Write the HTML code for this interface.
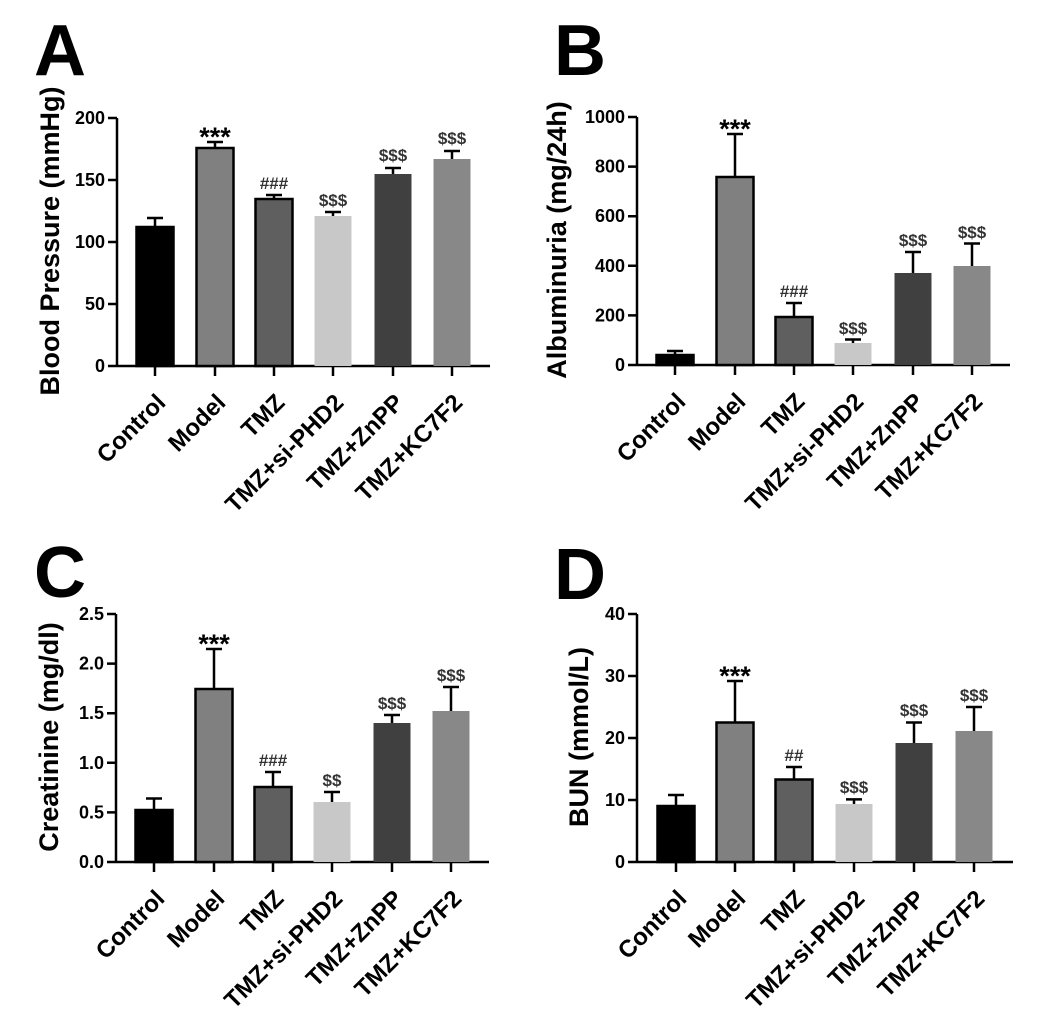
<!DOCTYPE html>
<html><head><meta charset="utf-8"><style>
html,body{margin:0;padding:0;background:#fff;}
svg{display:block;font-family:"Liberation Sans",Arial,sans-serif;font-weight:bold;}
.t{font-size:18px;text-anchor:end;}
.xl{font-size:24px;text-anchor:end;}
.yl{font-size:27px;text-anchor:middle;}
.an{font-size:17px;text-anchor:middle;fill:#333;}
.st{font-size:27px;text-anchor:middle;}
.L{font-size:72px;}
</style></head><body>
<svg width="1040" height="1024" viewBox="0 0 1040 1024" xmlns="http://www.w3.org/2000/svg">
<rect width="1040" height="1024" fill="#fff"/>
<text class="L" x="34" y="75">A</text>
<text class="L" x="554" y="75">B</text>
<text class="L" x="34" y="597">C</text>
<text class="L" x="554" y="599">D</text>

<!-- Panel A -->
<g transform="translate(117,366)" stroke-width="2.5">
<g stroke="#000" fill="none"><path d="M0,0V-248M0,0H373"/>
<path d="M-9,0H0M-9,-62H0M-9,-124H0M-9,-186H0M-9,-248H0"/>
<path d="M38,0v10M98,0v10M157,0v10M216,0v10M276,0v10M335,0v10"/>
<path d="M38,-139V-148M30,-148H46M98,-218V-224M90,-224H106M157,-167V-171M149,-171H165M216,-150V-154M208,-154H224M276,-192V-198M268,-198H284M335,-207V-215M327,-215H343"/></g>
<rect x="19.5" y="-139" width="37" height="139" fill="#000" stroke="#000"/>
<rect x="79.5" y="-218" width="37" height="218" fill="#808080" stroke="#000"/>
<rect x="138.5" y="-167" width="37" height="167" fill="#5f5f5f" stroke="#000"/>
<rect x="197.5" y="-150" width="37" height="150" fill="#c8c8c8" stroke="none"/>
<rect x="257.5" y="-192" width="37" height="192" fill="#404040" stroke="none"/>
<rect x="316.5" y="-207" width="37" height="207" fill="#888" stroke="none"/>
<text class="t" x="-12" y="6">0</text><text class="t" x="-12" y="-56">50</text><text class="t" x="-12" y="-118">100</text><text class="t" x="-12" y="-180">150</text><text class="t" x="-12" y="-242">200</text>
<text class="st" x="98" y="-220">***</text>
<text class="an" x="157" y="-177">###</text>
<text class="an" x="216" y="-160">$$$</text>
<text class="an" x="276" y="-205">$$$</text>
<text class="an" x="335" y="-222">$$$</text>
<text class="yl" transform="translate(-67,-125) rotate(-90)" y="9">Blood Pressure (mmHg)</text>
<text class="xl" transform="translate(50,38) rotate(-45)">Control</text>
<text class="xl" transform="translate(110,38) rotate(-45)">Model</text>
<text class="xl" transform="translate(169,38) rotate(-45)">TMZ</text>
<text class="xl" transform="translate(228,38) rotate(-45)">TMZ+si-PHD2</text>
<text class="xl" transform="translate(288,38) rotate(-45)">TMZ+ZnPP</text>
<text class="xl" transform="translate(347,38) rotate(-45)">TMZ+KC7F2</text>
</g>

<!-- Panel B -->
<g transform="translate(637,365)" stroke-width="2.5">
<g stroke="#000" fill="none"><path d="M0,0V-248M0,0H373"/>
<path d="M-9,0H0M-9,-49.6H0M-9,-99.2H0M-9,-148.8H0M-9,-198.4H0M-9,-248H0"/>
<path d="M38,0v10M98,0v10M157,0v10M216,0v10M276,0v10M335,0v10"/>
<path d="M38,-10V-14M30,-14H46M98,-188V-231M90,-231H106M157,-48V-62M149,-62H165M216,-22V-25.5M208,-25.5H224M276,-92V-113M268,-113H284M335,-99V-121.5M327,-121.5H343"/></g>
<rect x="19.5" y="-10" width="37" height="10" fill="#000" stroke="#000"/>
<rect x="79.5" y="-188" width="37" height="188" fill="#808080" stroke="#000"/>
<rect x="138.5" y="-48" width="37" height="48" fill="#5f5f5f" stroke="#000"/>
<rect x="197.5" y="-22" width="37" height="22" fill="#c8c8c8" stroke="none"/>
<rect x="257.5" y="-92" width="37" height="92" fill="#404040" stroke="none"/>
<rect x="316.5" y="-99" width="37" height="99" fill="#888" stroke="none"/>
<text class="t" x="-12" y="6">0</text><text class="t" x="-12" y="-43.6">200</text><text class="t" x="-12" y="-93.2">400</text><text class="t" x="-12" y="-142.8">600</text><text class="t" x="-12" y="-192.4">800</text><text class="t" x="-12" y="-242">1000</text>
<text class="st" x="98" y="-227">***</text>
<text class="an" x="157" y="-68">###</text>
<text class="an" x="216" y="-31">$$$</text>
<text class="an" x="276" y="-119">$$$</text>
<text class="an" x="335" y="-127">$$$</text>
<text class="yl" transform="translate(-80,-125) rotate(-90)" y="9">Albuminuria (mg/24h)</text>
<text class="xl" transform="translate(50,38) rotate(-45)">Control</text>
<text class="xl" transform="translate(110,38) rotate(-45)">Model</text>
<text class="xl" transform="translate(169,38) rotate(-45)">TMZ</text>
<text class="xl" transform="translate(228,38) rotate(-45)">TMZ+si-PHD2</text>
<text class="xl" transform="translate(288,38) rotate(-45)">TMZ+ZnPP</text>
<text class="xl" transform="translate(347,38) rotate(-45)">TMZ+KC7F2</text>
</g>

<!-- Panel C -->
<g transform="translate(116,862)" stroke-width="2.5">
<g stroke="#000" fill="none"><path d="M0,0V-248M0,0H373"/>
<path d="M-9,0H0M-9,-49.6H0M-9,-99.2H0M-9,-148.8H0M-9,-198.4H0M-9,-248H0"/>
<path d="M38,0v10M98,0v10M157,0v10M216,0v10M276,0v10M335,0v10"/>
<path d="M38,-52V-63.5M30,-63.5H46M98,-173V-213M90,-213H106M157,-75V-90M149,-90H165M216,-60V-70M208,-70H224M276,-139V-147M268,-147H284M335,-151V-175M327,-175H343"/></g>
<rect x="19.5" y="-52" width="37" height="52" fill="#000" stroke="#000"/>
<rect x="79.5" y="-173" width="37" height="173" fill="#808080" stroke="#000"/>
<rect x="138.5" y="-75" width="37" height="75" fill="#5f5f5f" stroke="#000"/>
<rect x="197.5" y="-60" width="37" height="60" fill="#c8c8c8" stroke="none"/>
<rect x="257.5" y="-139" width="37" height="139" fill="#404040" stroke="none"/>
<rect x="316.5" y="-151" width="37" height="151" fill="#888" stroke="none"/>
<text class="t" x="-12" y="6">0.0</text><text class="t" x="-12" y="-43.6">0.5</text><text class="t" x="-12" y="-93.2">1.0</text><text class="t" x="-12" y="-142.8">1.5</text><text class="t" x="-12" y="-192.4">2.0</text><text class="t" x="-12" y="-242">2.5</text>
<text class="st" x="98" y="-209">***</text>
<text class="an" x="157" y="-96">###</text>
<text class="an" x="216" y="-76">$$</text>
<text class="an" x="276" y="-153">$$$</text>
<text class="an" x="335" y="-181">$$$</text>
<text class="yl" transform="translate(-67,-125) rotate(-90)" y="9">Creatinine (mg/dl)</text>
<text class="xl" transform="translate(50,38) rotate(-45)">Control</text>
<text class="xl" transform="translate(110,38) rotate(-45)">Model</text>
<text class="xl" transform="translate(169,38) rotate(-45)">TMZ</text>
<text class="xl" transform="translate(228,38) rotate(-45)">TMZ+si-PHD2</text>
<text class="xl" transform="translate(288,38) rotate(-45)">TMZ+ZnPP</text>
<text class="xl" transform="translate(347,38) rotate(-45)">TMZ+KC7F2</text>
</g>

<!-- Panel D -->
<g transform="translate(637,862)" stroke-width="2.5">
<g stroke="#000" fill="none"><path d="M0,0V-248M0,0H376"/>
<path d="M-9,0H0M-9,-62H0M-9,-124H0M-9,-186H0M-9,-248H0"/>
<path d="M39,0v10M98,0v10M157,0v10M217,0v10M277,0v10M337,0v10"/>
<path d="M39,-56V-67M31,-67H47M98,-139.5V-181M90,-181H106M157,-82.5V-95M149,-95H165M217,-58V-62.6M209,-62.6H225M277,-119V-139.5M269,-139.5H285M337,-131V-155M329,-155H345"/></g>
<rect x="20.5" y="-56" width="37" height="56" fill="#000" stroke="#000"/>
<rect x="79.5" y="-139.5" width="37" height="139.5" fill="#808080" stroke="#000"/>
<rect x="138.5" y="-82.5" width="37" height="82.5" fill="#5f5f5f" stroke="#000"/>
<rect x="198.5" y="-58" width="37" height="58" fill="#c8c8c8" stroke="none"/>
<rect x="258.5" y="-119" width="37" height="119" fill="#404040" stroke="none"/>
<rect x="318.5" y="-131" width="37" height="131" fill="#888" stroke="none"/>
<text class="t" x="-12" y="6">0</text><text class="t" x="-12" y="-56">10</text><text class="t" x="-12" y="-118">20</text><text class="t" x="-12" y="-180">30</text><text class="t" x="-12" y="-242">40</text>
<text class="st" x="98" y="-177">***</text>
<text class="an" x="157" y="-101">##</text>
<text class="an" x="217" y="-69">$$$</text>
<text class="an" x="277" y="-146">$$$</text>
<text class="an" x="337" y="-161">$$$</text>
<text class="yl" transform="translate(-58,-125) rotate(-90)" y="9">BUN (mmol/L)</text>
<text class="xl" transform="translate(51,38) rotate(-45)">Control</text>
<text class="xl" transform="translate(110,38) rotate(-45)">Model</text>
<text class="xl" transform="translate(169,38) rotate(-45)">TMZ</text>
<text class="xl" transform="translate(229,38) rotate(-45)">TMZ+si-PHD2</text>
<text class="xl" transform="translate(289,38) rotate(-45)">TMZ+ZnPP</text>
<text class="xl" transform="translate(349,38) rotate(-45)">TMZ+KC7F2</text>
</g>
</svg>
</body></html>
